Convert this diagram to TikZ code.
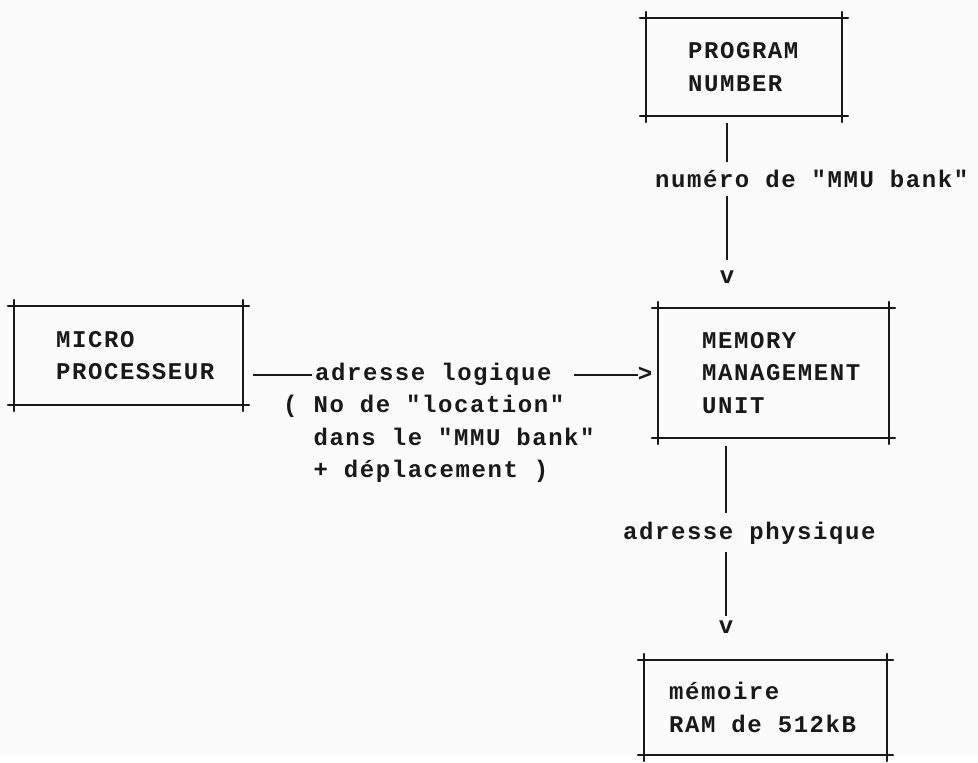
\documentclass[tikz,border=0pt]{standalone}
\usepackage{fontspec}
\usetikzlibrary{positioning}
\newfontfamily\typewriter{Liberation Mono}[LetterSpace=6.5]
\definecolor{inkBlack}{gray}{0.1}
\definecolor{paperWhite}{gray}{0.985}
\newcommand{\tw}{\typewriter\bfseries\fontsize{24pt}{32.5pt}\selectfont}
% typed frame: the four lines run a little past each corner
\newcommand{\typeframe}[1]{%
  \draw[frameline] ([xshift=-6pt]#1.north west) -- ([xshift=6pt]#1.north east);
  \draw[frameline] ([xshift=-6pt]#1.south west) -- ([xshift=6pt]#1.south east);
  \draw[frameline] ([yshift=6pt]#1.north west) -- ([yshift=-6pt]#1.south west);
  \draw[frameline] ([yshift=6pt]#1.north east) -- ([yshift=-6pt]#1.south east);}

\begin{document}
\begin{tikzpicture}[x=1pt, y=-1pt, inkBlack,
    frameline/.style={line width=2.2pt, line cap=round},
    tframe/.style={inner sep=0pt, outer sep=0pt},
    boxtext/.style={font=\tw, align=left, inner sep=0pt},
    tlabel/.style={font=\tw, inner xsep=3pt, inner ysep=8pt},
    head/.style={font=\tw, inner sep=0pt},
    link/.style={line width=2.2pt}]
    \fill[paperWhite] (0,0) rectangle (978,756);

    % boxes
    \node[tframe, minimum width=196pt, minimum height=98pt] (prog) at (744,67) {};
    \node[boxtext, right=42pt of prog.west] (prog-txt) {PROGRAM\\NUMBER};
    \node[tframe, minimum width=229pt, minimum height=99pt] (micro) at (128.5,355.5) {};
    \node[boxtext, right=42pt of micro.west] (micro-txt) {MICRO\\PROCESSEUR};
    \node[tframe, minimum width=231pt, minimum height=130pt] (mmu) at (773.5,373) {};
    \node[boxtext, right=44pt of mmu.west] (mmu-txt) {MEMORY\\MANAGEMENT\\UNIT};
    \node[tframe, minimum width=243pt, minimum height=95pt] (ram) at (765.5,707.5) {};
    \node[boxtext, right=25pt of ram.west] (ram-txt) {mémoire\\RAM de 512kB};
    \typeframe{prog}
    \typeframe{micro}
    \typeframe{mmu}
    \typeframe{ram}

    % typed arrow heads
    \node[head] (v-num) at (727,277) {v};
    \node[head] (v-phys) at (726,627) {v};
    \node[head] (arr-log) at (645,374) {>};

    % labels
    \node[tlabel, anchor=base west] (lbl-num) at (652,188) {numéro de "MMU bank"};
    \node[tlabel, anchor=base west] (lbl-log) at (312,381) {adresse logique};
    \node[tlabel, inner ysep=1pt, anchor=north west, align=left] (lbl-loc)
        at ([xshift=-32pt]lbl-log.south west)
        {( No de "location"\\\phantom{( }dans le "MMU bank"\\\phantom{( }+ déplacement )};
    \node[tlabel, anchor=base west] (lbl-phys) at (620,539) {adresse physique};

    % connectors
    \draw[link, shorten <=7pt] (prog.south -| v-num) -- (lbl-num.north -| v-num);
    \draw[link, shorten >=10pt] (lbl-num.south -| v-num) -- (v-num.north);
    \draw[link, shorten <=10pt] (micro.east |- lbl-log) -- (lbl-log.west);
    \draw[link, shorten <=19pt] (lbl-log.east) -- (lbl-log.east -| arr-log.west);
    \draw[link, shorten <=8pt] (mmu.south -| v-phys) -- (lbl-phys.north -| v-phys);
    \draw[link, shorten >=4pt] (lbl-phys.south -| v-phys) -- (v-phys.north);
\end{tikzpicture}
\end{document}
